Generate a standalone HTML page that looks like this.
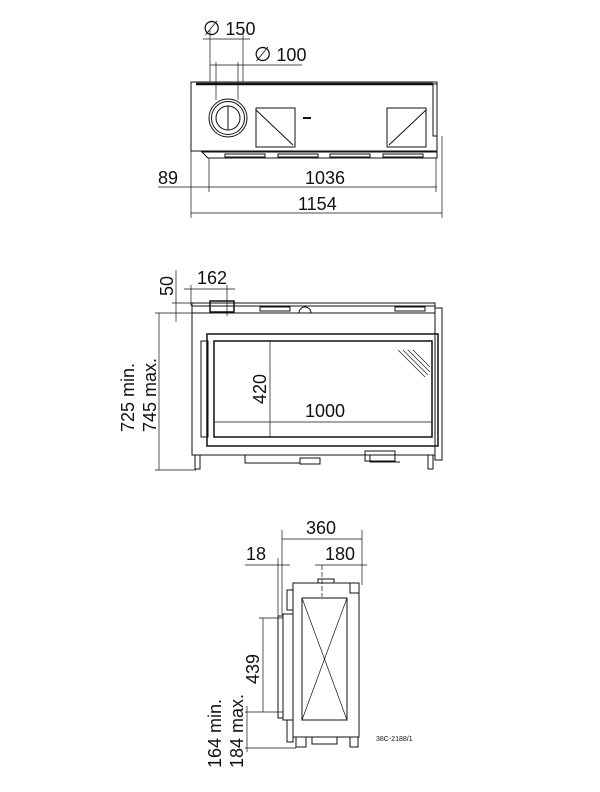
<!DOCTYPE html>
<html><head><meta charset="utf-8"><style>
html,body{margin:0;padding:0;background:#fff}
svg{display:block}
text{font-family:"Liberation Sans",sans-serif;fill:#111}
</style></head><body>
<svg width="600" height="792" viewBox="0 0 600 792" xmlns="http://www.w3.org/2000/svg">
<g stroke="#111" fill="none" stroke-width="1">
<!-- TOP VIEW -->
<rect x="191" y="82" width="246" height="69"/>
<line x1="196" y1="84" x2="433" y2="84" stroke-width="2.5"/>
<rect x="433" y="84" width="4" height="52"/>
<path d="M202 152 H437 V158 H208 Z"/>
<rect x="225" y="154" width="40" height="3"/><rect x="278" y="154" width="40" height="3"/><rect x="330" y="154" width="40" height="3"/><rect x="383" y="154" width="40" height="3"/>
<circle cx="228" cy="118" r="19"/><circle cx="228" cy="118" r="16.5"/><circle cx="228" cy="118" r="12"/>
<line x1="228" y1="106" x2="228" y2="130"/>
<rect x="256" y="108" width="39" height="39"/>
<path d="M256 110 L293 145" />
<rect x="387" y="108" width="39" height="39"/><path d="M426 110 L389 145"/>
<line x1="303" y1="118" x2="311" y2="118" stroke-width="2"/>
<!-- top dims -->
<line x1="210" y1="30" x2="210" y2="82" stroke-width="0.7"/><line x1="243" y1="30" x2="243" y2="82" stroke-width="0.7"/>
<line x1="203" y1="39" x2="250" y2="39" stroke-width="0.7"/>
<line x1="216" y1="62" x2="216" y2="100" stroke-width="0.7"/><line x1="238" y1="62" x2="238" y2="100" stroke-width="0.7"/>
<line x1="210" y1="65" x2="302" y2="65" stroke-width="0.7"/>
<line x1="191" y1="151" x2="191" y2="218" stroke-width="0.7"/>
<line x1="209" y1="158" x2="209" y2="192" stroke-width="0.7"/>
<line x1="436" y1="158" x2="436" y2="192" stroke-width="0.7"/>
<line x1="442" y1="136" x2="442" y2="218" stroke-width="0.7"/>
<line x1="158" y1="187" x2="437" y2="187" stroke-width="0.7"/>
<line x1="191" y1="213" x2="442" y2="213" stroke-width="0.7"/>

<!-- FRONT VIEW -->
<rect x="192" y="306" width="243" height="149"/>
<rect x="192" y="303" width="243" height="10"/>
<rect x="210" y="301" width="24" height="11" stroke-width="1.5"/>
<rect x="260" y="307" width="30" height="4"/><rect x="395" y="307" width="30" height="4"/>
<path d="M299 313 A6 6 0 0 1 311 313"/>
<rect x="207" y="334" width="231" height="112" stroke-width="1.5"/>
<rect x="214" y="341" width="218" height="96" stroke-width="1.5"/>
<rect x="201" y="341" width="7" height="96"/>
<rect x="435" y="308" width="7" height="152"/>
<g stroke-width="0.6"><line x1="398" y1="350" x2="425" y2="377"/><line x1="403" y1="350" x2="428" y2="375"/><line x1="408" y1="350" x2="430" y2="372"/><line x1="413" y1="350" x2="430" y2="367"/></g>
<line x1="192" y1="455" x2="432" y2="455"/>
<rect x="195" y="455" width="5" height="14"/><rect x="428" y="455" width="5" height="14"/>
<path d="M245 455 V463 H300 M370 455 V462 H400"/>
<rect x="300" y="458" width="20" height="6"/><rect x="365" y="451" width="30" height="10"/>
<!-- front dims -->
<line x1="159" y1="313" x2="159" y2="470" stroke-width="0.7"/>
<line x1="155" y1="313" x2="192" y2="313" stroke-width="0.7"/>
<line x1="155" y1="470" x2="196" y2="470" stroke-width="0.7"/>
<line x1="176" y1="270" x2="176" y2="322" stroke-width="0.7"/>
<line x1="172" y1="303" x2="210" y2="303" stroke-width="0.7"/>
<line x1="184" y1="289" x2="235" y2="289" stroke-width="0.7"/>
<line x1="191" y1="285" x2="191" y2="306" stroke-width="0.7"/>
<line x1="227" y1="285" x2="227" y2="316" stroke-width="0.7"/>
<line x1="270" y1="341" x2="270" y2="437" stroke-width="0.7"/>
<line x1="214" y1="422" x2="432" y2="422" stroke-width="0.7"/>

<!-- SIDE VIEW -->
<rect x="293" y="583" width="66" height="154"/>
<rect x="302" y="598" width="45" height="122"/>
<line x1="302" y1="598" x2="347" y2="720" stroke-width="0.7"/><line x1="347" y1="598" x2="302" y2="720" stroke-width="0.7"/>
<rect x="318" y="579" width="16" height="4"/>
<rect x="350" y="583" width="9" height="10"/>
<rect x="287" y="590" width="6" height="20"/>
<rect x="283" y="614" width="10" height="106"/>
<rect x="278" y="616" width="5" height="102"/>
<rect x="287" y="720" width="6" height="22"/>
<rect x="296" y="737" width="10" height="10"/><rect x="350" y="737" width="8" height="10"/>
<rect x="312" y="737" width="25" height="7"/>
<!-- side dims -->
<line x1="282" y1="530" x2="282" y2="615" stroke-width="0.7"/>
<line x1="362" y1="530" x2="362" y2="585" stroke-width="0.7"/>
<line x1="282" y1="539" x2="362" y2="539" stroke-width="0.7"/>
<line x1="278" y1="558" x2="278" y2="616" stroke-width="0.7"/>
<line x1="245" y1="565" x2="290" y2="565" stroke-width="0.7"/>
<line x1="315" y1="565" x2="367" y2="565" stroke-width="0.7"/>
<line x1="322" y1="565" x2="322" y2="597" stroke-width="0.7" stroke-dasharray="5,2"/>
<line x1="263" y1="618" x2="263" y2="712" stroke-width="0.7"/>
<line x1="259" y1="618" x2="283" y2="618" stroke-width="0.7"/>
<line x1="245" y1="712" x2="283" y2="712" stroke-width="0.7"/>
<line x1="245" y1="748" x2="296" y2="748" stroke-width="0.7"/>
<line x1="247" y1="706" x2="247" y2="752" stroke-width="0.7"/>
</g>
<!-- text -->
<g font-size="18">
<text x="203" y="35"><tspan font-size="20">∅</tspan> 150</text>
<text x="254" y="61"><tspan font-size="20">∅</tspan> 100</text>
<text x="158" y="184">89</text>
<text x="305" y="184">1036</text>
<text x="298" y="210">1154</text>
<text x="197" y="284">162</text>
<text transform="translate(173,296) rotate(-90)">50</text>
<text transform="translate(134,432) rotate(-90)">725 min.</text>
<text transform="translate(156,432) rotate(-90)">745 max.</text>
<text transform="translate(266,404) rotate(-90)">420</text>
<text x="305" y="417">1000</text>
<text x="306" y="534">360</text>
<text x="246" y="560">18</text>
<text x="325" y="560">180</text>
<text transform="translate(259,684) rotate(-90)">439</text>
<text transform="translate(221,768) rotate(-90)">164 min.</text>
<text transform="translate(243,768) rotate(-90)">184 max.</text>
</g>
<text x="376" y="741" font-size="7">38C-2188/1</text>
</svg>
</body></html>
